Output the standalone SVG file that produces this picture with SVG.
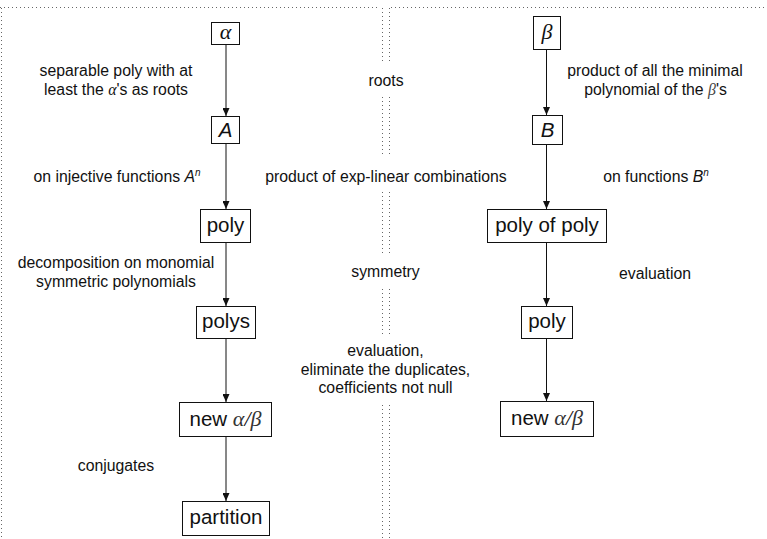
<svg xmlns="http://www.w3.org/2000/svg" width="767" height="539" viewBox="0 0 767 539">
<style>
.lbl{font-family:"Liberation Sans",Arial,sans-serif;font-size:15.8px;fill:#111;text-anchor:middle}
.nt{font-family:"Liberation Sans",Arial,sans-serif;font-size:20.5px;fill:#111;text-anchor:middle}
.gk{font-family:"Liberation Serif","DejaVu Serif",serif;font-style:italic}
.gn{font-size:22px}
.it{font-style:italic}
.box{fill:#fff;stroke:#111;stroke-width:1}
.edge{stroke:#111;stroke-width:1;fill:none;marker-end:url(#arr)}
.dot{stroke:#666;stroke-width:1;stroke-dasharray:1 3;fill:none}
</style>
<defs>
<marker id="arr" markerWidth="8" markerHeight="7" refX="8" refY="3.5" orient="auto" markerUnits="userSpaceOnUse">
<path d="M0,0 L8,3.5 L0,7 z" fill="#111"/>
</marker>
</defs>
<rect width="767" height="539" fill="#fff"/>
<g id="frame">
<line class="dot" x1="0" y1="7.5" x2="378" y2="7.5"/>
<line class="dot" x1="391" y1="7.5" x2="767" y2="7.5"/>
<line class="dot" x1="1.5" y1="8" x2="1.5" y2="539"/>
<g id="middle-dots">
<path class="dot" d="M382.5,8V64M389.5,8V64M382.5,97V157M389.5,97V157M382.5,192V254M389.5,192V254M382.5,289V337M389.5,289V337M382.5,405V539M389.5,405V539"/>
</g>
</g>
<g id="connectors">
<line class="edge" x1="226" y1="44" x2="226" y2="116"/>
<line class="edge" x1="226" y1="143" x2="226" y2="209"/>
<line class="edge" x1="226" y1="242" x2="226" y2="306"/>
<line class="edge" x1="226" y1="338" x2="226" y2="402"/>
<line class="edge" x1="226" y1="436" x2="226" y2="501"/>
<line class="edge" x1="546.5" y1="49" x2="546.5" y2="115"/>
<line class="edge" x1="546.5" y1="144" x2="546.5" y2="209"/>
<line class="edge" x1="546.5" y1="242" x2="546.5" y2="306"/>
<line class="edge" x1="546.5" y1="338" x2="546.5" y2="401"/>
</g>
<g id="node-alpha"><rect class="box" x="211.5" y="22.5" width="28" height="22"/><text class="nt gk gn" x="225.5" y="38.5">α</text></g>
<g id="node-A"><rect class="box" x="211.5" y="116.5" width="28" height="27"/><text class="nt it" x="225.5" y="137">A</text></g>
<g id="node-poly-left"><rect class="box" x="200.5" y="209.5" width="50" height="33"/><text class="nt" x="225.5" y="231.5">poly</text></g>
<g id="node-polys"><rect class="box" x="196.5" y="306.5" width="59" height="32"/><text class="nt" x="226" y="328">polys</text></g>
<g id="node-new-left"><rect class="box" x="179.5" y="402.5" width="92" height="34"/><text class="nt" x="225.5" y="425.5">new <tspan class="gk gn" fill="#333">α</tspan><tspan class="gk gn">/</tspan><tspan class="gk gn" fill="#333">β</tspan></text></g>
<g id="node-partition"><rect class="box" x="182.5" y="501.5" width="87" height="34"/><text class="nt" x="226" y="523.5">partition</text></g>
<g id="node-beta"><rect class="box" x="533.5" y="16.5" width="27" height="33"/><text class="nt gk gn" x="547" y="38.5" fill="#333">β</text></g>
<g id="node-B"><rect class="box" x="532.5" y="115.5" width="30" height="29"/><text class="nt it" x="547.5" y="137">B</text></g>
<g id="node-polyofpoly"><rect class="box" x="487.5" y="209.5" width="119" height="33"/><text class="nt" x="547" y="231.5">poly of poly</text></g>
<g id="node-poly-right"><rect class="box" x="521.5" y="306.5" width="51" height="32"/><text class="nt" x="547" y="328">poly</text></g>
<g id="node-new-right"><rect class="box" x="500.5" y="401.5" width="93" height="35"/><text class="nt" x="547" y="425">new <tspan class="gk gn" fill="#333">α</tspan><tspan class="gk gn">/</tspan><tspan class="gk gn" fill="#333">β</tspan></text></g>
<g id="labels">
<text class="lbl" x="116" y="76">separable poly with at</text>
<text class="lbl" x="116" y="95">least the <tspan class="gk">α</tspan>'s as roots</text>
<text class="lbl" x="117" y="181.5">on injective functions <tspan class="it">A</tspan><tspan class="it" font-size="10" dy="-6">n</tspan></text>
<text class="lbl" x="116" y="268">decomposition on monomial</text>
<text class="lbl" x="116" y="287">symmetric polynomials</text>
<text class="lbl" x="116" y="471">conjugates</text>
<text class="lbl" x="386" y="86">roots</text>
<text class="lbl" x="386" y="181.5">product of exp-linear combinations</text>
<text class="lbl" x="385.5" y="277">symmetry</text>
<text class="lbl" x="385.5" y="356">evaluation,</text>
<text class="lbl" x="385.5" y="374.5">eliminate the duplicates,</text>
<text class="lbl" x="385.5" y="393">coefficients not null</text>
<text class="lbl" x="655" y="76">product of all the minimal</text>
<text class="lbl" x="655.5" y="95">polynomial of the <tspan class="gk" fill="#444">β</tspan>'s</text>
<text class="lbl" x="656" y="181.5">on functions <tspan class="it">B</tspan><tspan class="it" font-size="10" dy="-6">n</tspan></text>
<text class="lbl" x="655" y="279">evaluation</text>
</g>
</svg>
